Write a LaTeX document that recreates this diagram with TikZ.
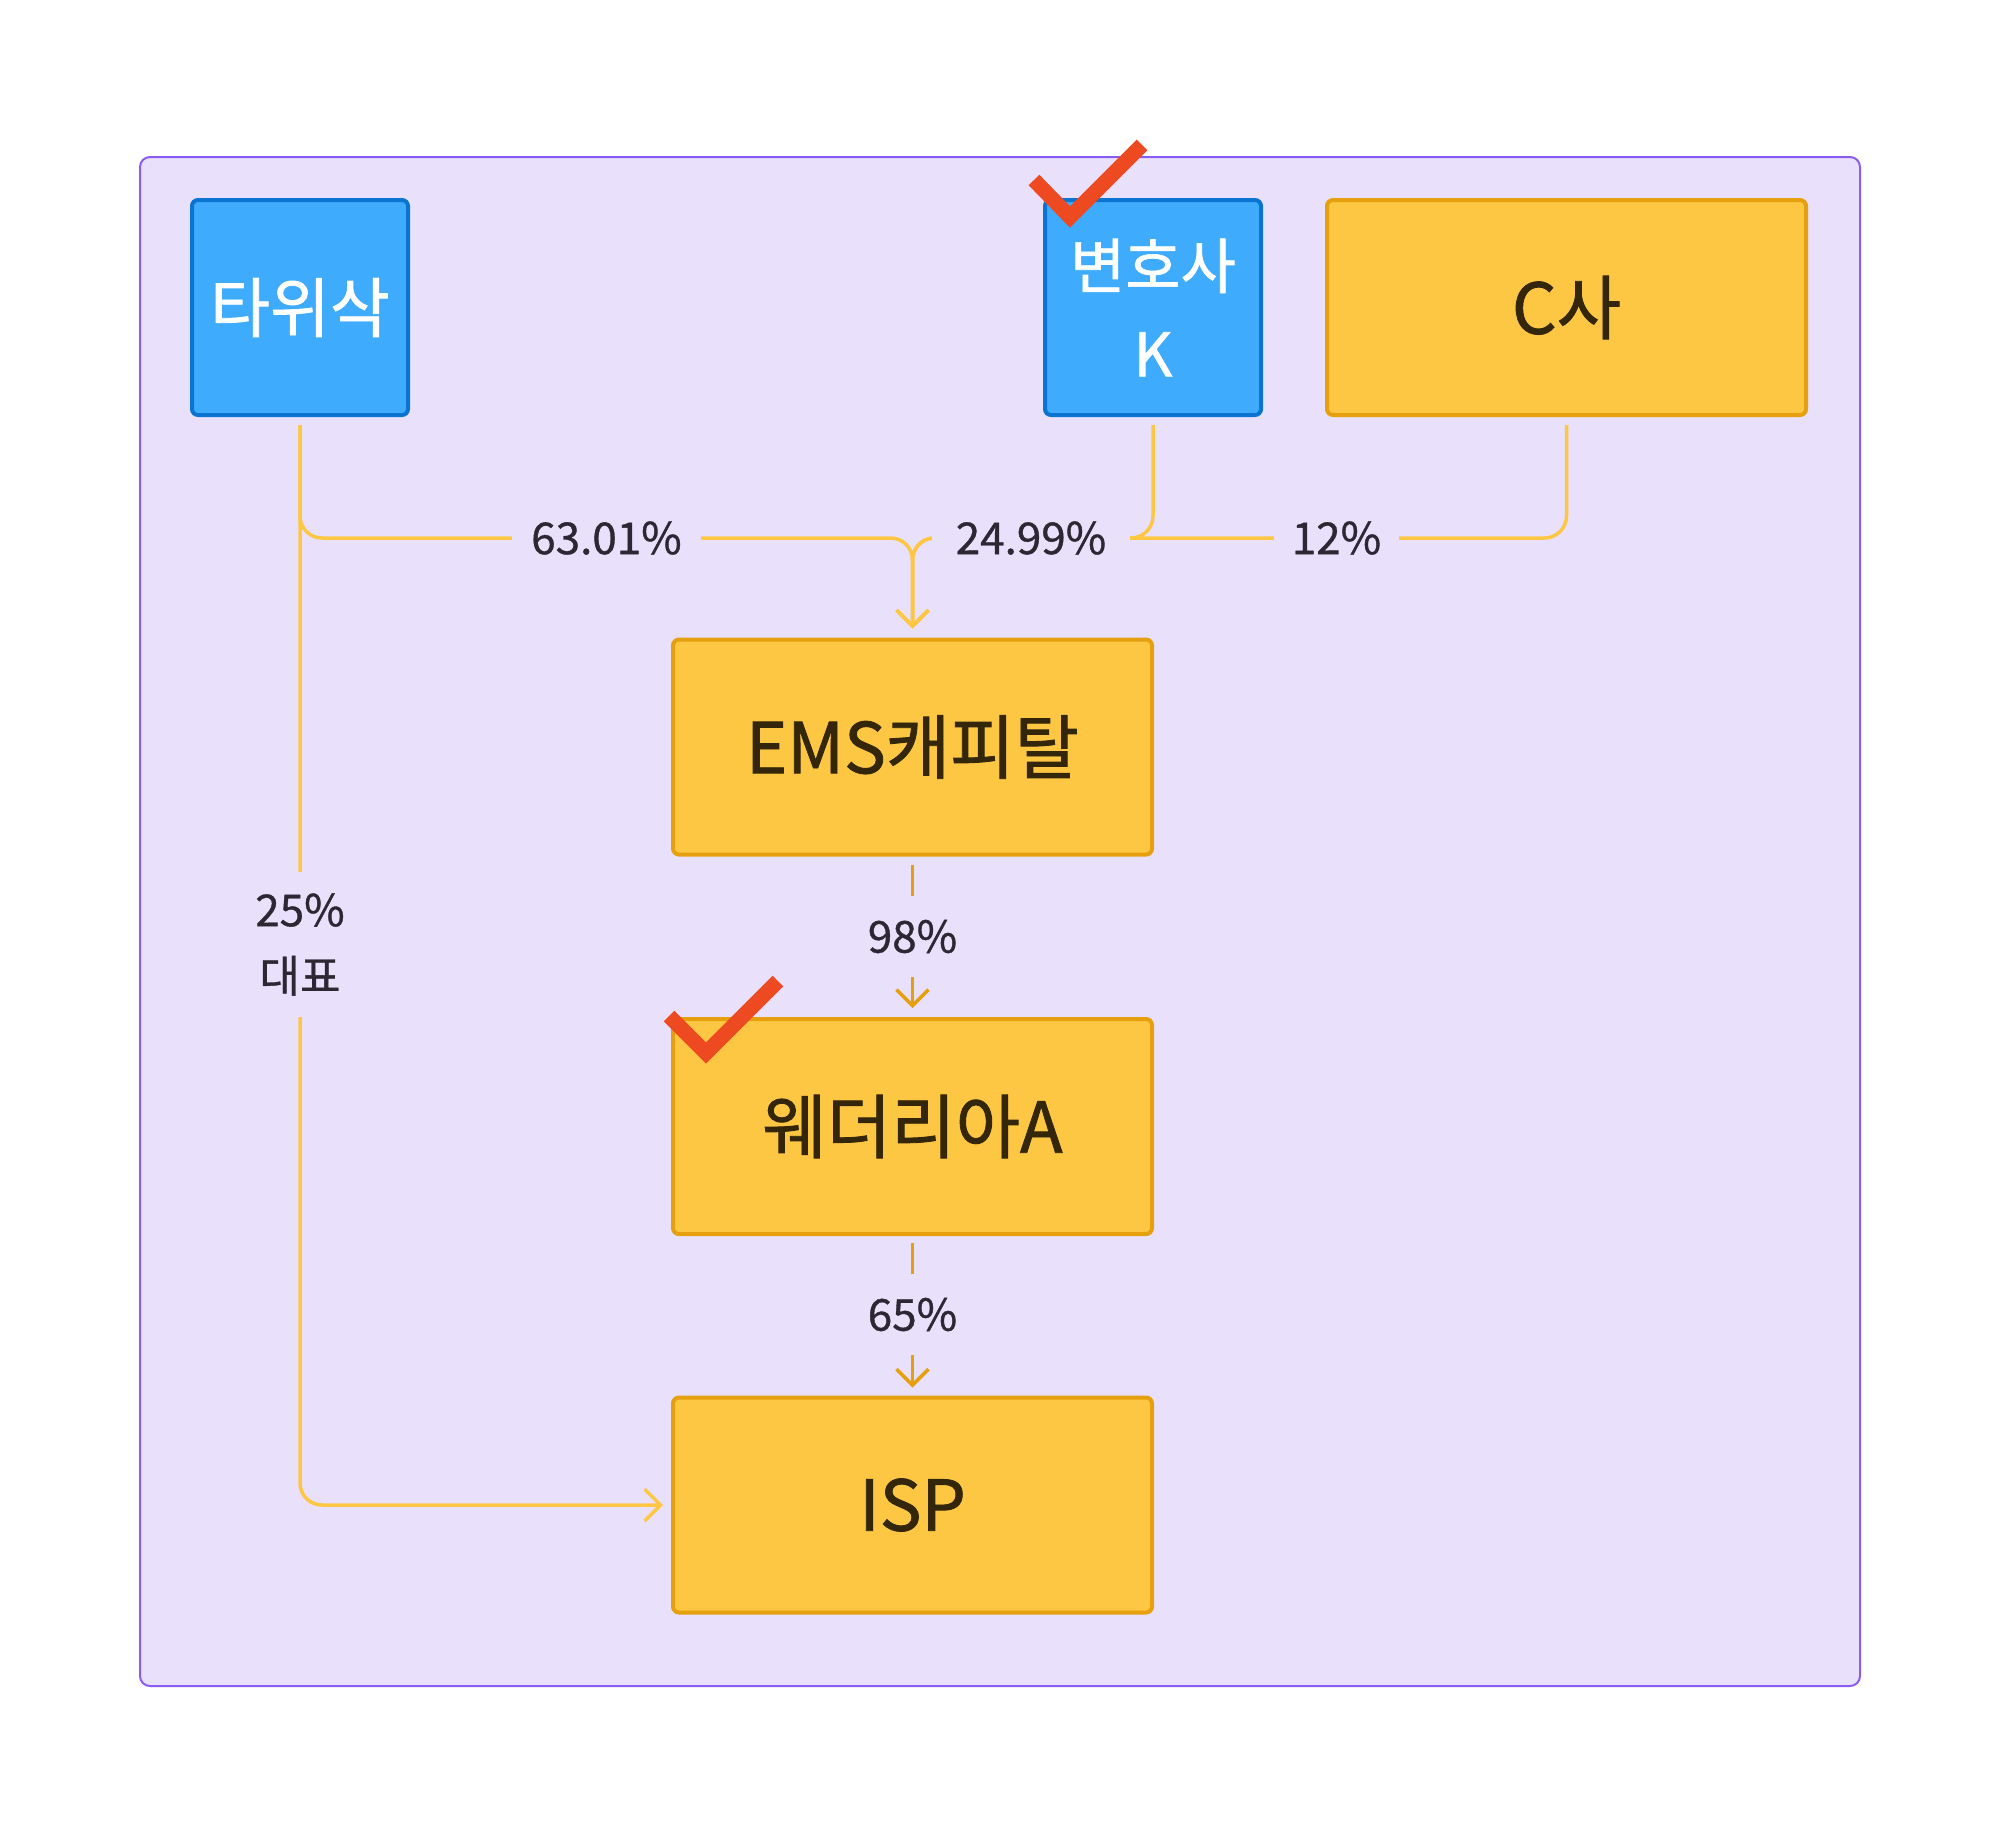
\documentclass[tikz,border=0pt]{standalone}
\usepackage{fontspec}
\setmainfont{Noto Sans CJK KR}
\newfontfamily\medfont{Noto Sans CJK KR}[FakeBold=1.2]
\newfontfamily\lblfont{Noto Sans CJK KR}[FakeBold=0.8]
\usetikzlibrary{arrows.meta}
\definecolor{bgpurple}{HTML}{E9E1FC}
\definecolor{frame}{HTML}{8B5CF0}
\definecolor{bluefill}{HTML}{3EABFD}
\definecolor{blueborder}{HTML}{0B74D0}
\definecolor{yelfill}{HTML}{FDC744}
\definecolor{yelborder}{HTML}{E6A00E}
\definecolor{lightedge}{HTML}{FDC744}
\definecolor{darkedge}{HTML}{E6A00E}
\definecolor{labeltext}{HTML}{2B2733}
\definecolor{boxtext}{HTML}{33260A}
\definecolor{checkred}{HTML}{EE4A22}
\begin{document}
\begin{tikzpicture}[x=1pt,y=-1pt,
  bluebox/.style={draw=blueborder, fill=bluefill, line width=4pt, rounded corners=6pt,
    minimum width=216pt, minimum height=215pt, text=white, inner sep=0pt, align=center,
    font=\medfont\fontsize{60}{88}\selectfont},
  yelbox/.style={draw=yelborder, fill=yelfill, line width=4pt, rounded corners=6pt,
    minimum width=479pt, minimum height=215pt, text=boxtext, inner sep=0pt, align=center,
    font=\medfont\fontsize{70}{84}\selectfont},
  elabel/.style={fill=bgpurple, inner sep=0pt, text=labeltext, align=center,
    font=\lblfont\fontsize{44}{66}\selectfont},
  lightline/.style={draw=lightedge, line width=3.5pt, rounded corners=22pt},
  darkline/.style={draw=darkedge, line width=3.5pt},
  tip/.style={-{Straight Barb[length=16pt,width=32pt]}},
  checkmark/.style={draw=checkred, line width=15pt, miter limit=10, line join=miter}
]
\useasboundingbox (0,0) rectangle (2000,1826);
\fill[white] (0,0) rectangle (2000,1826);
\draw[fill=bgpurple, draw=frame, line width=2pt, rounded corners=10pt] (140,157) rectangle (1860,1686);

\node[bluebox, font=\medfont\fontsize{65}{88}\selectfont] (ta) at (300,307.5) {타위삭};
\node[bluebox] (bk) at (1153,307.5) {변호사\\K};
\node[yelbox] (cs) at (1566.5,307.5) {C사};
\node[yelbox] (ems) at (912.5,747) {EMS캐피탈};
\node[yelbox] (wd) at (912.5,1126.5) {웨더리아A};
\node[yelbox] (isp) at (912.5,1505) {ISP};

\coordinate (j) at (912.5,538);

% 타위삭 -> ISP
\draw[lightline, tip, shorten <=8pt, shorten >=8pt] (ta.south) |- (isp.west);
% three owners -> EMS
\draw[lightline, tip, shorten <=8pt, shorten >=9pt] (ta.south) |- (j) -- (ems.north);
\draw[lightline, tip, shorten <=8pt, shorten >=9pt] (bk.south) |- (j) -- (ems.north);
\draw[lightline, tip, shorten <=8pt, shorten >=9pt] (cs.south) |- (j) -- (ems.north);
% chain
\draw[darkline, tip, shorten <=8pt, shorten >=9pt] (ems.south) -- (wd.north);
\draw[darkline, tip, shorten <=7pt, shorten >=8pt] (wd.south) -- (isp.north);

% labels
\node[elabel, minimum width=189pt, minimum height=40pt] (l1) at (606.5,538) {63.01\%};
\node[elabel, minimum width=198pt, minimum height=40pt] (l2) at (1031,538) {24.99\%};
\node[elabel, minimum width=125pt, minimum height=40pt] (l3) at (1336.5,538) {12\%};
\node[elabel, minimum width=100pt, minimum height=145pt] (l4) at (300,944.5) {25\%\\대표};
\node[elabel, minimum width=100pt, minimum height=81pt] (l5) at (912.5,936.5) {98\%};
\node[elabel, minimum width=100pt, minimum height=81pt] (l6) at (912.5,1314.5) {65\%};

% check marks
\draw[checkmark] (1034,180) -- (1070,217) -- (1142,145);
\draw[checkmark] (669,1016) -- (706,1053) -- (778,981);
\end{tikzpicture}
\end{document}
